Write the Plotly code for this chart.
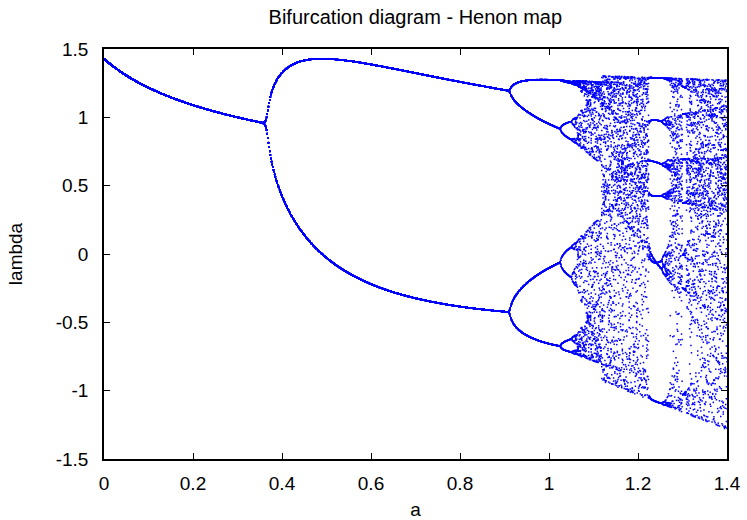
import numpy as np
import plotly.graph_objects as go

# Henon map parameters: x' = 1 - a*x^2 + y,  y' = b*x
B_PARAM = 0.3
A_START, A_STOP, A_COUNT = 0.0, 1.4, 1001
TRANSIENT = 400      # iterations discarded before recording
KEEP = 30            # iterations recorded per value of a

X_TICKS = [0, 0.2, 0.4, 0.6, 0.8, 1, 1.2, 1.4]
X_TICK_TEXT = ["0", "0.2", "0.4", "0.6", "0.8", "1", "1.2", "1.4"]
Y_TICKS = [-1.5, -1, -0.5, 0, 0.5, 1, 1.5]
Y_TICK_TEXT = ["-1.5", "-1", "-0.5", "0", "0.5", "1", "1.5"]

a_values = np.linspace(A_START, A_STOP, A_COUNT)

pts_a, pts_x = [], []
for a in a_values:
    x, y = 0.1, 0.1
    ok = True
    for _ in range(TRANSIENT):
        x, y = 1 - a * x * x + y, B_PARAM * x
        if abs(x) > 1e3:
            ok = False
            break
    if not ok:
        continue
    for _ in range(KEEP):
        x, y = 1 - a * x * x + y, B_PARAM * x
        if abs(x) > 1e3:
            break
        pts_a.append(a)
        pts_x.append(x)

FONT = "Liberation Sans, Arial, Helvetica, sans-serif"

fig = go.Figure(
    go.Scatter(
        x=pts_a,
        y=pts_x,
        mode="markers",
        marker=dict(color="#0000ff", size=1.5, symbol="square", line=dict(width=0)),
        hoverinfo="skip",
    )
)

axis_common = dict(
    showgrid=False,
    zeroline=False,
    showline=True,
    linecolor="black",
    linewidth=1.5,
    mirror="ticks",
    ticks="inside",
    ticklen=6,
    tickwidth=1,
    tickcolor="black",
    automargin=False,
    tickfont=dict(family=FONT, size=19, color="black"),
)

fig.update_xaxes(
    range=[0, 1.4],
    tickvals=X_TICKS,
    ticktext=X_TICK_TEXT,
    title=dict(text="a", font=dict(family=FONT, size=19, color="black"), standoff=12),
    ticklabelstandoff=6,
    **axis_common,
)
fig.update_yaxes(
    range=[-1.5, 1.5],
    tickvals=Y_TICKS,
    ticktext=Y_TICK_TEXT,
    title=dict(text="lambda", font=dict(family=FONT, size=19, color="black"), standoff=28),
    ticklabelstandoff=10,
    **axis_common,
)

fig.update_layout(
    width=747,
    height=520,
    margin=dict(l=104, r=20, t=49, b=61),
    paper_bgcolor="white",
    plot_bgcolor="white",
    showlegend=False,
    title=dict(
        text="Bifurcation diagram - Henon map",
        font=dict(family=FONT, size=20, color="black"),
        x=0.556,
        xanchor="center",
        yref="container",
        y=1 - 17 / 520,
        yanchor="middle",
    ),
)

fig.write_html("out.html")
